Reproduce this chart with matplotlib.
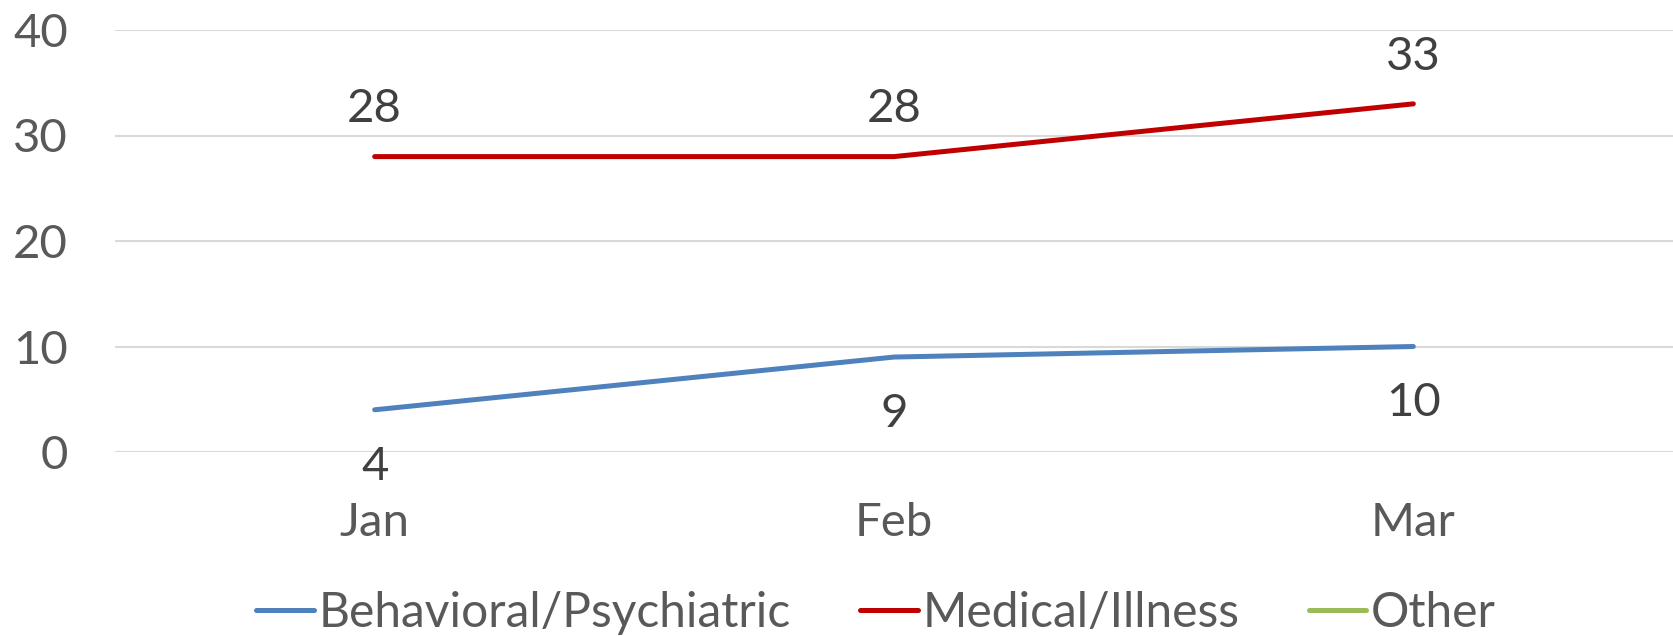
import numpy as np
import matplotlib
matplotlib.use('Agg')
import matplotlib.pyplot as plt

plt.rcParams['font.family'] = ['Lato', 'DejaVu Sans']

months = ['Jan', 'Feb', 'Mar']
behavioral = [4, 9, 10]
medical = [28, 28, 33]
other = [np.nan, np.nan, np.nan]

fig = plt.figure(figsize=(16.73, 6.36), dpi=100)
ax = fig.add_axes([115 / 1673, 1 - 452 / 636, 1 - 115 / 1673, (452 - 30) / 636])

x = np.arange(len(months))
ax.plot(x, behavioral, color='#4F81BD', lw=3.6, solid_capstyle='round', label='Behavioral/Psychiatric')
ax.plot(x, medical, color='#C00000', lw=3.6, solid_capstyle='round', label='Medical/Illness')
ax.plot(x, other, color='#9BBB59', lw=3.6, solid_capstyle='round', label='Other')

# data labels: blue below, red above
for xi, v in zip(x, behavioral):
    ax.annotate(str(v), (xi, v), xytext=(0, -41), textcoords='offset points',
                ha='center', va='center', fontsize=34, color='#404040')
for xi, v in zip(x, medical):
    ax.annotate(str(v), (xi, v), xytext=(0, 34), textcoords='offset points',
                ha='center', va='center', fontsize=34, color='#404040')

ax.set_xlim(-0.5, 2.5)
ax.set_ylim(0, 40)
ax.set_yticks([0, 10, 20, 30, 40])
ax.set_xticks(x)
ax.set_xticklabels(months)
ax.tick_params(axis='both', length=0, labelsize=34, labelcolor='#595959')
ax.tick_params(axis='x', pad=36)
ax.tick_params(axis='y', pad=34)
ax.grid(axis='y', color='#D9D9D9', lw=1.5)
ax.set_axisbelow(True)
for s in ax.spines.values():
    s.set_visible(False)

fig.legend(loc='center', bbox_to_anchor=(876 / 1673, 1 - 613 / 636), ncol=3, frameon=False,
           fontsize=34.5, labelcolor='#595959', handlelength=1.2, handletextpad=0.1,
           columnspacing=1.45, borderaxespad=0)

fig.savefig('out.png', dpi=100)
